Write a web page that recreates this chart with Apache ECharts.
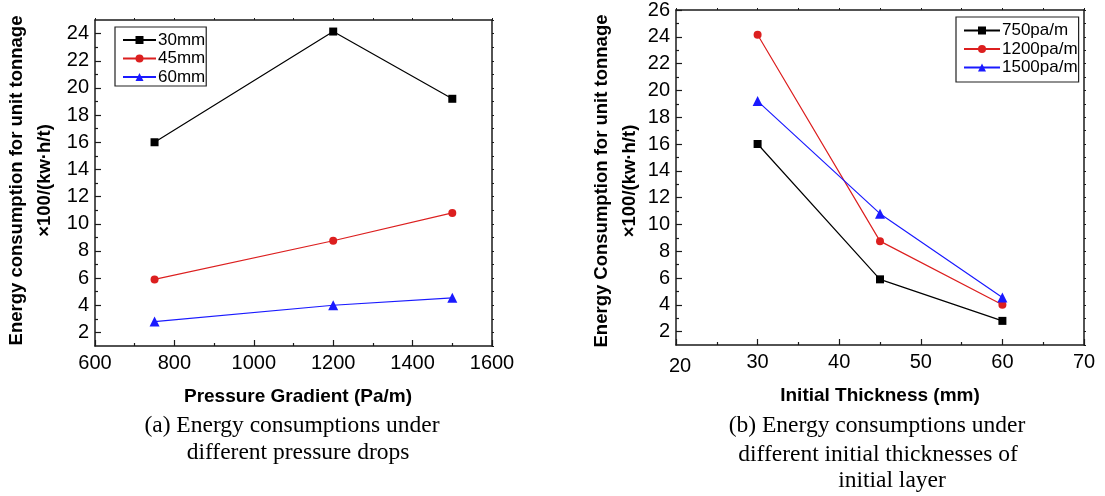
<!DOCTYPE html>
<html>
<head>
<meta charset="utf-8">
<script src="https://cdn.jsdelivr.net/npm/echarts@6/dist/echarts.min.js"></script>
<style>html,body{margin:0;padding:0;background:#fff}#c{width:1105px;height:496px}</style>
</head>
<body>
<div id="c"></div>
<script>
// ---- data (a): energy vs pressure gradient ----
const pressureX = [750, 1200, 1500];
const mm30 = [16.0, 24.15, 19.2];
const mm45 = [5.9, 8.75, 10.8];
const mm60 = [2.8, 4.0, 4.55];
// ---- data (b): energy vs initial thickness ----
const thicknessX = [30, 45, 60];
const pa750 = [16.0, 5.9, 2.8];
const pa1200 = [24.15, 8.75, 4.0];
const pa1500 = [19.2, 10.8, 4.55];
// ---- tick labels ----
const yTicksA = [2,4,6,8,10,12,14,16,18,20,22,24];
const yMinorA = [3,5,7,9,11,13,15,17,19,21,23];
const yAllA = [1,2,3,4,5,6,7,8,9,10,11,12,13,14,15,16,17,18,19,20,21,22,23,24,25];
const yTicksB = [2,4,6,8,10,12,14,16,18,20,22,24,26];
const yMinorB = [3,5,7,9,11,13,15,17,19,21,23,25];
const yAllB = [1,2,3,4,5,6,7,8,9,10,11,12,13,14,15,16,17,18,19,20,21,22,23,24,25,26];
const namesA = ['30mm', '45mm', '60mm'];
const namesB = ['750pa/m', '1200pa/m', '1500pa/m'];
const yNameA = 'Energy consumption for unit tonnage\n×100/(kw·h/t)';
const yNameB = 'Energy Consumption for unit tonnage\n×100/(kw·h/t)';
const xNameA = 'Pressure Gradient (Pa/m)';
const xNameB = 'Initial Thickness (mm)';
const captionA = ['(a) Energy consumptions under', 'different pressure drops'];
const captionB = ['(b) Energy consumptions under', 'different initial thicknesses of', 'initial layer'];

const BLACK = '#000000', RED = '#dc1f1f', BLUE = '#1a1aff';
const AX = '#1a1a1a';
const FONT = '"Liberation Sans", Arial, sans-serif';
const SERIF = '"Liberation Serif", "Times New Roman", serif';
const TICKFS = 20, NAMEFS = 18.5, XNAMEFS = 19, LEGFS = 17, CAPFS = 23.5;

function plain(v) { return String(v); }

function mainY(grid, min, max, ticks, name, gap, namePad) {
  return {
    type: 'value', gridIndex: grid, position: 'left', min: min, max: max,
    splitLine: {show: false},
    axisLine: {show: true, lineStyle: {color: AX, width: 1.5}},
    axisTick: {show: true, inside: true, length: 6, customValues: ticks, lineStyle: {color: AX, width: 1.2}},
    axisLabel: {show: true, customValues: ticks, margin: 6, fontFamily: FONT, fontSize: TICKFS, color: '#000', formatter: plain},
    name: name, nameLocation: 'middle', nameRotate: 90, nameGap: gap,
    nameTextStyle: {fontFamily: FONT, fontSize: NAMEFS, fontWeight: 'bold', color: '#000', lineHeight: 28, align: 'center', padding: namePad}
  };
}
function minorY(grid, min, max, ticks) {
  return {
    type: 'value', gridIndex: grid, position: 'left', min: min, max: max,
    splitLine: {show: false}, axisLine: {show: false},
    axisTick: {show: true, inside: true, length: 3, customValues: ticks, lineStyle: {color: AX, width: 1.2}},
    axisLabel: {show: false}
  };
}
function mirrorY(grid, min, max, ticks) {
  return {
    type: 'value', gridIndex: grid, position: 'right', min: min, max: max,
    splitLine: {show: false},
    axisLine: {show: true, lineStyle: {color: AX, width: 1.5}},
    axisTick: {show: true, inside: false, length: 2, customValues: ticks, lineStyle: {color: AX, width: 1}},
    axisLabel: {show: false}
  };
}

const option = {
  animation: false,
  backgroundColor: '#fff',
  grid: [
    {left: 95, right: 613, top: 20, bottom: 150, containLabel: false},
    {left: 676, right: 21, top: 10, bottom: 151, containLabel: false}
  ],
  xAxis: [
    {type: 'value', gridIndex: 0, position: 'bottom', min: 600, max: 1600, interval: 200,
     splitLine: {show: false},
     axisLine: {show: true, lineStyle: {color: AX, width: 1.5}},
     axisTick: {show: true, inside: true, length: 6, lineStyle: {color: AX, width: 1.2}},
     minorTick: {show: true, splitNumber: 2, length: 3, lineStyle: {color: AX, width: 1.2}},
     minorSplitLine: {show: false},
     axisLabel: {margin: 7, fontFamily: FONT, fontSize: TICKFS, color: '#000', formatter: plain},
     name: xNameA, nameLocation: 'middle', nameGap: 41,
     nameTextStyle: {fontFamily: FONT, fontSize: XNAMEFS, fontWeight: 'bold', color: '#000', padding: [0, 0, 0, 9]}},
    {type: 'value', gridIndex: 0, position: 'top', min: 600, max: 1600, interval: 100,
     splitLine: {show: false},
     axisLine: {show: true, lineStyle: {color: AX, width: 1.5}},
     axisTick: {show: true, inside: false, length: 2, lineStyle: {color: AX, width: 1}},
     axisLabel: {show: false}},
    {type: 'value', gridIndex: 1, position: 'bottom', min: 20, max: 70, interval: 10,
     splitLine: {show: false},
     axisLine: {show: true, lineStyle: {color: AX, width: 1.5}},
     axisTick: {show: true, inside: true, length: 6, lineStyle: {color: AX, width: 1.2}},
     minorTick: {show: true, splitNumber: 2, length: 3, lineStyle: {color: AX, width: 1.2}},
     minorSplitLine: {show: false},
     axisLabel: {margin: 7, fontFamily: FONT, fontSize: TICKFS, color: '#000',
       formatter: function (v) { return v === 20 ? '{low|20}' : String(v); },
       rich: {low: {fontFamily: FONT, fontSize: TICKFS, color: '#000', padding: [4, 0, 0, 8]}}},
     name: xNameB, nameLocation: 'middle', nameGap: 41,
     nameTextStyle: {fontFamily: FONT, fontSize: XNAMEFS, fontWeight: 'bold', color: '#000'}},
    {type: 'value', gridIndex: 1, position: 'top', min: 20, max: 70, interval: 5,
     splitLine: {show: false},
     axisLine: {show: true, lineStyle: {color: AX, width: 1.5}},
     axisTick: {show: true, inside: false, length: 2, lineStyle: {color: AX, width: 1}},
     axisLabel: {show: false}}
  ],
  yAxis: [
    mainY(0, 1, 25, yTicksA, yNameA, 36, [0, 0, 0, 5]),
    minorY(0, 1, 25, yMinorA),
    mirrorY(0, 1, 25, yAllA),
    mainY(1, 1, 26, yTicksB, yNameB, 31, [0, 7, 0, 0]),
    minorY(1, 1, 26, yMinorB),
    mirrorY(1, 1, 26, yAllB)
  ],
  legend: [
    {data: namesA, orient: 'vertical', left: 115, top: 27,
     show: true, borderColor: '#222', borderWidth: 1.2, backgroundColor: '#fff',
     padding: [4.5, 1, 0.5, 7], itemGap: 1.5, itemWidth: 33, itemHeight: 10,
     textStyle: {fontFamily: FONT, fontSize: LEGFS, color: '#000', padding: [0, 0, 0, -3]}},
    {data: namesB, orient: 'vertical', left: 956, top: 17,
     show: true, borderColor: '#222', borderWidth: 1.2, backgroundColor: '#fff',
     padding: [5, 1, 6, 7], itemGap: 1.5, itemWidth: 36, itemHeight: 10,
     textStyle: {fontFamily: FONT, fontSize: LEGFS, color: '#000', padding: [0, 0, 0, -3]}}
  ],
  series: [
    {name: namesA[0], type: 'line', xAxisIndex: 0, yAxisIndex: 0, data: pressureX.map((x, i) => [x, mm30[i]]),
     symbol: 'rect', symbolSize: 8, color: BLACK, lineStyle: {width: 1.2, color: BLACK}},
    {name: namesA[1], type: 'line', xAxisIndex: 0, yAxisIndex: 0, data: pressureX.map((x, i) => [x, mm45[i]]),
     symbol: 'circle', symbolSize: 8, color: RED, lineStyle: {width: 1.2, color: RED}},
    {name: namesA[2], type: 'line', xAxisIndex: 0, yAxisIndex: 0, data: pressureX.map((x, i) => [x, mm60[i]]),
     symbol: 'triangle', symbolSize: 10, color: BLUE, lineStyle: {width: 1.2, color: BLUE}},
    {name: namesB[0], type: 'line', xAxisIndex: 2, yAxisIndex: 3, data: thicknessX.map((x, i) => [x, pa750[i]]),
     symbol: 'rect', symbolSize: 8, color: BLACK, lineStyle: {width: 1.2, color: BLACK}},
    {name: namesB[1], type: 'line', xAxisIndex: 2, yAxisIndex: 3, data: thicknessX.map((x, i) => [x, pa1200[i]]),
     symbol: 'circle', symbolSize: 8, color: RED, lineStyle: {width: 1.2, color: RED}},
    {name: namesB[2], type: 'line', xAxisIndex: 2, yAxisIndex: 3, data: thicknessX.map((x, i) => [x, pa1500[i]]),
     symbol: 'triangle', symbolSize: 10, color: BLUE, lineStyle: {width: 1.2, color: BLUE}}
  ],
  graphic: [
    {type: 'text', x: 292, y: 426, style: {text: captionA[0], font: CAPFS + 'px ' + SERIF, fill: '#000', textAlign: 'center', textVerticalAlign: 'middle'}},
    {type: 'text', x: 298, y: 453, style: {text: captionA[1], font: CAPFS + 'px ' + SERIF, fill: '#000', textAlign: 'center', textVerticalAlign: 'middle'}},
    {type: 'text', x: 877, y: 426, style: {text: captionB[0], font: CAPFS + 'px ' + SERIF, fill: '#000', textAlign: 'center', textVerticalAlign: 'middle'}},
    {type: 'text', x: 878, y: 455, style: {text: captionB[1], font: CAPFS + 'px ' + SERIF, fill: '#000', textAlign: 'center', textVerticalAlign: 'middle'}},
    {type: 'text', x: 892, y: 481, style: {text: captionB[2], font: CAPFS + 'px ' + SERIF, fill: '#000', textAlign: 'center', textVerticalAlign: 'middle'}}
  ]
};
const chart = echarts.init(document.getElementById('c'), null, {renderer: 'canvas'});
chart.setOption(option);
</script>
</body>
</html>
